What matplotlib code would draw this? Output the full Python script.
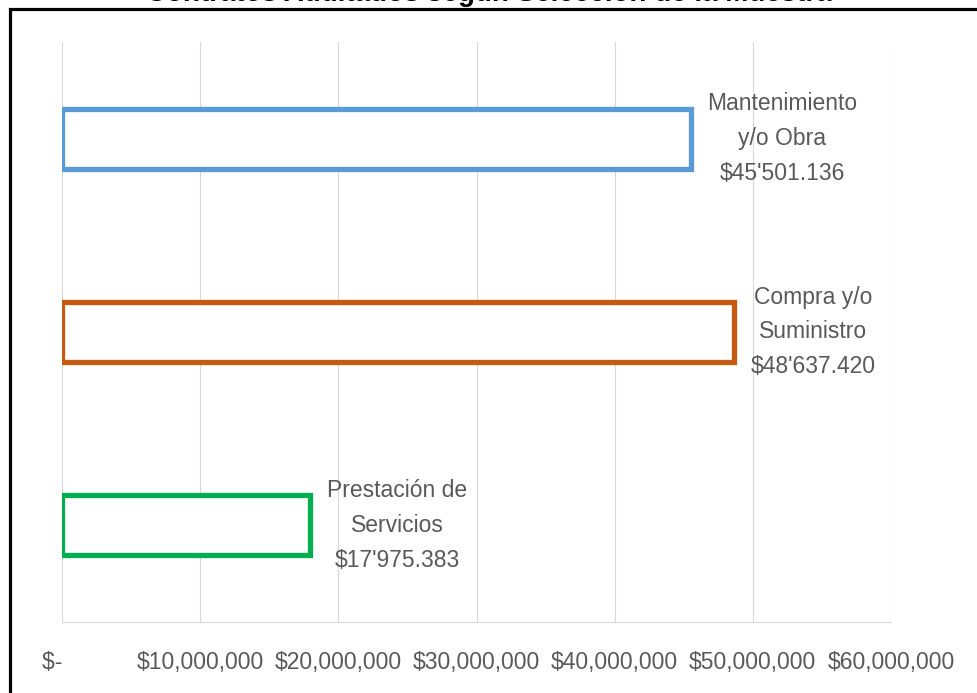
import matplotlib.pyplot as plt
from matplotlib.lines import Line2D
from matplotlib.ticker import FuncFormatter

# Data
categories = ["Prestación de\nServicios", "Compra y/o\nSuministro", "Mantenimiento\ny/o Obra"]
values = [17975383, 48637420, 45501136]
value_labels = ["$17'975.383", "$48'637.420", "$45'501.136"]
colors = ["#00B050", "#C55A11", "#5B9BD5"]
x_ticks = [0, 10000000, 20000000, 30000000, 40000000, 50000000, 60000000]

label_font = ["Liberation Sans", "DejaVu Sans"]
grey = "#595959"
fsize = 16.5

fig = plt.figure(figsize=(9.77, 6.93), dpi=100)
ax = fig.add_axes([62 / 977, 71 / 693, 829 / 977, 580 / 693])

# Bars (outline only)
y_pos = range(len(categories))
ax.barh(y_pos, values, height=0.31, color="white", edgecolor=colors,
        linewidth=3.8, zorder=3)

# Data labels right of each bar
for y, v, cat, lab in zip(y_pos, values, categories, value_labels):
    ax.annotate(cat + "\n" + lab, xy=(v, y), xytext=(12, 0),
                textcoords="offset points", ha="left", va="center",
                multialignment="center", fontsize=fsize, color=grey,
                family=label_font, linespacing=1.65, zorder=4)

# Axes styling
ax.set_xlim(0, 60000000)
ax.set_ylim(-0.5, 2.5)
ax.set_xticks(x_ticks)
ax.xaxis.set_major_formatter(
    FuncFormatter(lambda v, p: "$-   " if v == 0 else "${:,.0f}".format(v)))
ax.set_yticks([])
ax.grid(axis="x", color="#D9D9D9", linewidth=0.8, zorder=0)
for side in ["top", "left", "right"]:
    ax.spines[side].set_visible(False)
ax.spines["bottom"].set_color("#D9D9D9")
ax.spines["bottom"].set_linewidth(0.8)
ax.tick_params(axis="x", length=0, pad=21, labelsize=fsize, labelcolor=grey)
for t in ax.get_xticklabels():
    t.set_family(label_font)

# Title (cut off at the top edge in the original)
fig.text(0.5, 1 - 1 / 693, "Contratos Auditados según Selección de la Muestra",
         ha="center", va="baseline", fontsize=20, fontweight="bold",
         family=["Liberation Sans", "DejaVu Sans"])

# Black frame (left and top edges)
fy = 1 - 8.5 / 693
fx = 10 / 977
fig.add_artist(Line2D([fx, fx, 1.0], [0.0, fy, fy], transform=fig.transFigure,
                      color="black", linewidth=2.3, solid_joinstyle="miter"))

fig.savefig("out.png", dpi=100)
